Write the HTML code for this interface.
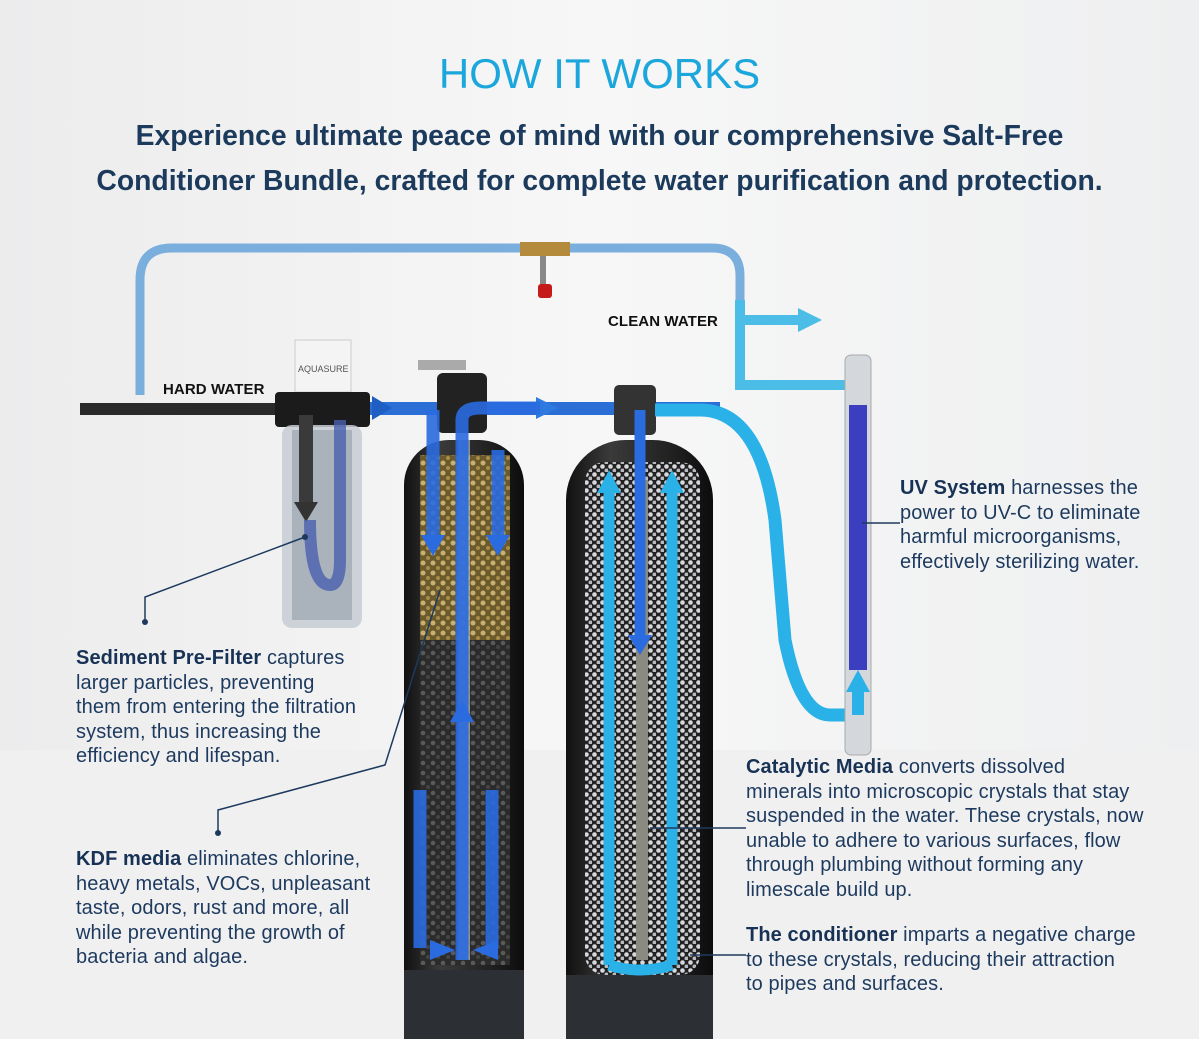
<!DOCTYPE html>
<html><head><meta charset="utf-8"><style>
body{margin:0;width:1199px;height:1039px;overflow:hidden;background:#eeeff0;font-family:"Liberation Sans",sans-serif;position:relative}
.t{position:absolute;color:#1d3a5e;font-size:20px;line-height:24.6px;letter-spacing:0.1px;white-space:nowrap}
.t b{color:#183256}
</style></head><body>
<svg width="1199" height="1039" style="position:absolute;left:0;top:0">
<defs>
<linearGradient id="bg" x1="0" y1="0" x2="1" y2="0"><stop offset="0" stop-color="#ececed"/><stop offset=".5" stop-color="#f7f7f7"/><stop offset="1" stop-color="#eeeff0"/></linearGradient>
<linearGradient id="tk" x1="0" y1="0" x2="1" y2="0"><stop offset="0" stop-color="#111"/><stop offset=".3" stop-color="#3a3a3a"/><stop offset=".7" stop-color="#222"/><stop offset="1" stop-color="#0c0c0c"/></linearGradient>
<pattern id="gold" width="10" height="10" patternUnits="userSpaceOnUse"><rect width="10" height="10" fill="#6b5a2c"/><circle cx="3" cy="3" r="2.5" fill="#c9b070"/><circle cx="8" cy="8" r="2" fill="#a88c48"/></pattern>
<pattern id="grav" width="10" height="10" patternUnits="userSpaceOnUse"><rect width="10" height="10" fill="#2b2b2b"/><circle cx="3" cy="3" r="2.3" fill="#5a5a58"/><circle cx="8" cy="7" r="2" fill="#444"/></pattern>
<pattern id="wht" width="8" height="8" patternUnits="userSpaceOnUse"><rect width="8" height="8" fill="#222"/><circle cx="2.5" cy="2.5" r="2.3" fill="#d8d8dc"/><circle cx="6.5" cy="6.5" r="2" fill="#b8b8c0"/></pattern>
</defs>
<rect width="1199" height="1039" fill="url(#bg)"/>
<rect y="750" width="1199" height="289" fill="#f0f0f1"/>
<path d="M140 395 L140 280 Q140 248 172 248 L712 248 Q740 248 740 276 L740 300" fill="none" stroke="#7aaedc" stroke-width="9"/>
<rect x="520" y="242" width="50" height="14" fill="#b48a3c"/><rect x="540" y="256" width="6" height="30" fill="#888"/><rect x="538" y="284" width="14" height="14" rx="3" fill="#c41a1a"/>
<path d="M740 300 L740 385 L845 385" fill="none" stroke="#4bbde6" stroke-width="10"/>
<path d="M740 320 L800 320" stroke="#4bbde6" stroke-width="10"/>
<polygon points="798,308 822,320 798,332" fill="#4bbde6"/>
<rect x="80" y="403" width="210" height="12" fill="#2a2a2a"/>
<rect x="360" y="402" width="360" height="13" fill="#2b6fd6"/>
<polygon points="372,396 392,408 372,420" fill="#1f5fc4"/><polygon points="536,397 558,408 536,419" fill="#2f7ae0"/>
<rect x="295" y="340" width="56" height="52" fill="#f4f4f4" stroke="#ccc"/>
<text x="298" y="372" font-size="9" fill="#555" font-family="Liberation Sans">AQUASURE</text>
<rect x="275" y="392" width="95" height="35" rx="4" fill="#1b1b1b"/>
<rect x="282" y="425" width="80" height="203" rx="10" fill="#c5ccd2" opacity=".85"/>
<rect x="292" y="430" width="60" height="190" fill="#aab3bb"/>
<path d="M306 415 L306 505" stroke="#3a3a3a" stroke-width="14"/><polygon points="294,502 318,502 306,522" fill="#333"/>
<path d="M310 520 Q310 585 330 585 Q340 585 340 560 L340 420" fill="none" stroke="#4a60b0" stroke-width="12" opacity=".8"/>
<rect x="404" y="440" width="120" height="599" rx="45" fill="url(#tk)"/>
<rect x="404" y="970" width="120" height="69" fill="#2c2f33"/>
<rect x="437" y="373" width="50" height="60" rx="6" fill="#222"/>
<rect x="418" y="360" width="48" height="10" fill="#aaa"/>
<rect x="420" y="455" width="90" height="185" fill="url(#gold)"/>
<rect x="420" y="640" width="90" height="325" fill="url(#grav)"/>
<rect x="458" y="440" width="12" height="520" fill="#bbb" opacity=".7"/>
<g fill="none" stroke="#2a6be0" stroke-width="13" opacity=".9">
<path d="M433 410 L433 540"/><path d="M498 450 L498 540"/><path d="M462 960 L462 420 Q462 408 480 408 L540 408"/>
<path d="M420 790 L420 948"/><path d="M492 790 L492 948"/></g>
<g fill="#2a6be0"><polygon points="421,535 445,535 433,556"/><polygon points="486,535 510,535 498,556"/><polygon points="450,722 474,722 462,700"/><polygon points="430,940 455,950 430,960"/><polygon points="498,940 473,950 498,960"/></g>
<rect x="566" y="440" width="147" height="599" rx="60" fill="url(#tk)"/>
<rect x="566" y="975" width="147" height="64" fill="#2c2f33"/>
<rect x="614" y="385" width="42" height="50" rx="5" fill="#333"/>
<rect x="585" y="462" width="115" height="513" rx="20" fill="url(#wht)"/>
<rect x="636" y="480" width="12" height="480" fill="#8a8a80"/>
<g fill="none" stroke="#29b1e8" stroke-width="11"><path d="M609 965 L609 490"/><path d="M672 965 L672 490"/><path d="M609 965 Q640 975 672 965"/></g>
<polygon points="597,493 621,493 609,470" fill="#29b1e8"/><polygon points="660,493 684,493 672,470" fill="#29b1e8"/>
<path d="M640 410 L640 640" stroke="#2a6be0" stroke-width="11"/><polygon points="628,635 652,635 640,655" fill="#2a6be0"/>
<path d="M655 410 L700 410 Q760 410 775 520 L785 640 Q800 715 830 715 L858 715" fill="none" stroke="#29b1e8" stroke-width="13"/>
<rect x="845" y="355" width="26" height="400" rx="6" fill="#d4d7dc" stroke="#aaa"/>
<rect x="849" y="405" width="18" height="265" fill="#3b3fbf"/>
<path d="M858 715 L858 690" stroke="#29b1e8" stroke-width="12"/><polygon points="846,692 870,692 858,670" fill="#29b1e8"/>
<g stroke="#1d3a5e" stroke-width="1.5" fill="none"><path d="M145 622 L145 597 L305 537"/><path d="M218 833 L218 810 L385 765 L440 590"/><path d="M746 828 L650 828"/><path d="M746 955 L690 955"/><path d="M900 523 L862 523"/></g>
<g fill="#1d3a5e"><circle cx="145" cy="622" r="3"/><circle cx="218" cy="833" r="3"/><circle cx="305" cy="537" r="3"/></g>
</svg>
<div style="position:absolute;top:50px;left:0;width:1199px;text-align:center;color:#1ba6dc;font-size:42px">HOW IT WORKS</div>
<div style="position:absolute;top:113px;left:0;width:1199px;text-align:center;color:#1b3a5c;font-size:28.3px;font-weight:bold;line-height:45px">Experience ultimate peace of mind with our comprehensive Salt-Free<br>Conditioner Bundle, crafted for complete water purification and protection.</div>
<div class="t" style="left:163px;top:378px;font-size:15px;font-weight:bold;color:#111">HARD WATER</div>
<div class="t" style="left:608px;top:310px;font-size:15px;font-weight:bold;color:#111">CLEAN WATER</div>
<div class="t" style="left:76px;top:646px"><b>Sediment Pre-Filter</b> captures<br>larger particles, preventing<br>them from entering the filtration<br>system, thus increasing the<br>efficiency and lifespan.</div>
<div class="t" style="left:76px;top:847px"><b>KDF media</b> eliminates chlorine,<br>heavy metals, VOCs, unpleasant<br>taste, odors, rust and more, all<br>while preventing the growth of<br>bacteria and algae.</div>
<div class="t" style="left:900px;top:476px"><b>UV System</b> harnesses the<br>power to UV-C to eliminate<br>harmful microorganisms,<br>effectively sterilizing water.</div>
<div class="t" style="left:746px;top:755px"><b>Catalytic Media</b> converts dissolved<br>minerals into microscopic crystals that stay<br>suspended in the water. These crystals, now<br>unable to adhere to various surfaces, flow<br>through plumbing without forming any<br>limescale build up.</div>
<div class="t" style="left:746px;top:923px"><b>The conditioner</b> imparts a negative charge<br>to these crystals, reducing their attraction<br>to pipes and surfaces.</div>
</body></html>
